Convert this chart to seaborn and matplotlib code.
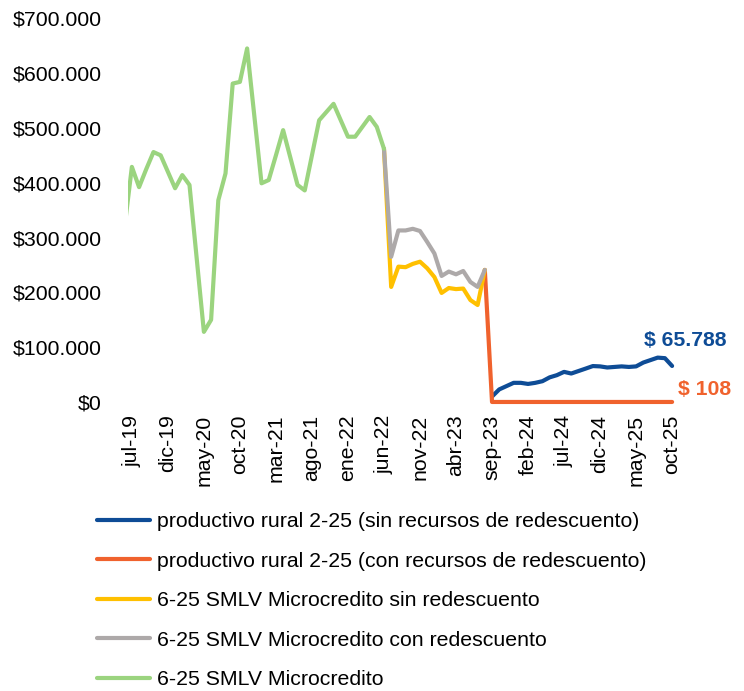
import pandas as pd
import matplotlib
matplotlib.use("Agg")
import matplotlib.pyplot as plt
from matplotlib.ticker import FuncFormatter
import seaborn as sns

# monthly categories, jun-19 .. oct-25
meses = ["ene", "feb", "mar", "abr", "may", "jun", "jul", "ago", "sep", "oct", "nov", "dic"]
periodos = [f"{meses[(5 + i) % 12]}-{19 + (5 + i) // 12}" for i in range(77)]

# values in pesos, each series with the index of its first month
micro_ini = 0
micro = [320000, 429000, 392000, 425000, 456000, 450000, 420000, 390000, 414000, 396000,
         262000, 128000, 150000, 368000, 417000, 581000, 584000, 645000, 522000, 399000,
         405000, 450000, 496000, 446000, 396000, 386000, 450000, 514000, 529000, 544000,
         514000, 484000, 484000, 502000, 520000, 502000, 462000]

con_red_ini = 36
micro_con_red = [462000, 265000, 313000, 313000, 316000, 312000, 292000, 271000, 230000,
                 238000, 233000, 239000, 219000, 210000, 241000]

sin_red_ini = 36
micro_sin_red = [462000, 210000, 247000, 246000, 252000, 256000, 244000, 228000, 199000,
                 208000, 206000, 207000, 186000, 177000, 241000]

rural_con_ini = 50
rural_con = [241000, 108, 108, 108, 108, 108, 108, 108, 108, 108, 108, 108, 108, 108,
             108, 108, 108, 108, 108, 108, 108, 108, 108, 108, 108, 108, 108]

rural_sin_ini = 51
rural_sin = [10000, 23000, 29000, 35000, 35000, 33000, 35000, 38000, 45000, 49000,
             55000, 52000, 56500, 61000, 65600, 65000, 63000, 64000, 65000, 64000,
             65000, 72000, 76500, 81000, 80000, 65788]

nombres = ["productivo rural 2-25 (sin recursos de redescuento)",
           "productivo rural 2-25 (con recursos de redescuento)",
           "6-25 SMLV Microcredito sin redescuento",
           "6-25 SMLV Microcredito con redescuento",
           "6-25 SMLV Microcredito"]
colores = ["#0E4C96", "#F0622D", "#FFC000", "#ADA9A9", "#9BD47F"]

series = [(rural_sin_ini, rural_sin), (rural_con_ini, rural_con), (sin_red_ini, micro_sin_red),
          (con_red_ini, micro_con_red), (micro_ini, micro)]
rows = []
for nombre, (ini, vals) in zip(nombres, series):
    for k, v in enumerate(vals):
        rows.append({"mes": ini + k, "valor": v, "serie": nombre})
df = pd.DataFrame(rows)

sns.set_style("white")
plt.rcParams["font.family"] = ["Liberation Sans", "DejaVu Sans"]
plt.rcParams["text.color"] = "black"
fs = 15.3
lw = 3.0

fig = plt.figure(figsize=(7.44, 6.91), dpi=100)
ax = fig.add_axes([0.1724, 0.4182, 0.7358, 0.5553])

sns.lineplot(data=df, x="mes", y="valor", hue="serie", hue_order=nombres,
             palette=colores, estimator=None, linewidth=lw, ax=ax, legend=False)
for ln in ax.lines:
    ln.set_solid_joinstyle("round")
ax.lines[1].set_clip_on(False)

ax.set_xlim(0.5, 76.5)
ax.set_ylim(0, 700000)
ax.set_yticks(range(0, 700001, 100000))
ax.yaxis.set_major_formatter(FuncFormatter(lambda v, p: "$" + f"{int(v):,}".replace(",", ".")))
ticks = list(range(1, 77, 5))
ax.set_xticks(ticks)
ax.set_xticklabels([periodos[t] for t in ticks], rotation=90)
ax.tick_params(axis="y", labelsize=fs, pad=19, length=0, labelcolor="black")
ax.tick_params(axis="x", labelsize=fs, pad=9, length=0, labelcolor="black")
ax.set_xlabel("")
ax.set_ylabel("")
sns.despine(ax=ax, left=True, bottom=True)

ax.annotate(f"$ {rural_sin[-1]:,}".replace(",", "."), xy=(76, rural_sin[-1]),
            xytext=(-20, 18), textcoords="offset points", ha="left", va="center",
            fontsize=fs, fontweight="bold", color=colores[0], annotation_clip=False)
ax.annotate(f"$ {rural_con[-1]}", xy=(76, rural_con[-1]),
            xytext=(4, 9), textcoords="offset points", ha="left", va="center",
            fontsize=fs, fontweight="bold", color=colores[1], annotation_clip=False)

handles = [plt.Line2D([], [], color=c, linewidth=lw) for c in colores]
fig.legend(handles, nombres, loc="upper left", bbox_to_anchor=(0.130, 0.259),
           frameon=False, fontsize=fs, handlelength=2.5, handletextpad=0.35,
           labelspacing=0.97, borderpad=0, borderaxespad=0)

fig.savefig("out.png", dpi=100)
